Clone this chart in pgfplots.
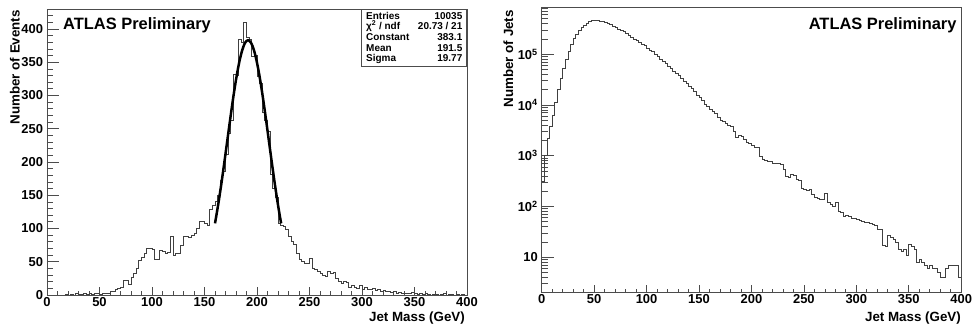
\documentclass[border=0pt]{standalone}
\usepackage{fontspec}
\setmainfont{Liberation Sans}
\usepackage{pgfplots}
\pgfplotsset{compat=1.18}
\definecolor{axgray}{gray}{0.3}
\definecolor{histgray}{gray}{0.25}
\pgfplotsset{
  rootstyle/.style={
    scale only axis,
    axis line style={axgray, line width=0.8bp},
    tick align=inside,
    tick pos=left,
    tick style={axgray, line width=0.7bp},
    xtick style={/pgfplots/major tick length=8bp, /pgfplots/minor tick length=4bp},
    ytick style={/pgfplots/major tick length=12bp, /pgfplots/minor tick length=6bp},
    /pgf/number format/assume math mode=true,
    ticklabel style={font=\fontsize{13}{13}\selectfont\bfseries},
    xticklabel style={inner sep=2bp},
    yticklabel style={inner sep=3.8bp},
    xmin=0, xmax=400,
    xtick={0,50,...,400},
    minor xtick={10,20,...,390},
  }
}
\begin{document}
\begin{tikzpicture}
\useasboundingbox (0,0) rectangle (972bp,324bp);
% ---------------- left panel ----------------
\begin{axis}[rootstyle,
  at={(47bp,29bp)}, anchor=south west,
  width=420bp, height=286bp,
  ymin=0, ymax=430,
  ytick={0,50,...,400},
  minor ytick={10,20,...,430},
]
\addplot[const plot, histgray, line width=0.8bp, no marks] coordinates {
(0,0) (2.5,0) (5,0) (7.5,0) (10,0) (12.5,0) (15,0) (17.5,1) (20,0) (22.5,1)
(25,0) (27.5,2) (30,1) (32.5,1) (35,2) (37.5,1) (40,2) (42.5,1) (45,3) (47.5,2)
(50,1) (52.5,3) (55,2) (57.5,3) (60,5) (62.5,6) (65,8) (67.5,10) (70,12) (72.5,22)
(75,22) (77.5,16) (80,26) (82.5,32) (85,40) (87.5,52) (90,57) (92.5,63) (95,70) (97.5,70)
(100,68) (102.5,53) (105,53) (107.5,67) (110,66) (112.5,63) (115,64) (117.5,88) (120,60) (122.5,62)
(125,62) (127.5,74) (130,88) (132.5,88) (135,87) (137.5,90) (140,93) (142.5,100) (145,110) (147.5,110)
(150,108) (152.5,105) (155,128) (157.5,135) (160,140) (162.5,150) (165,172) (167.5,186) (170,212) (172.5,243)
(175,262) (177.5,331) (180,330) (182.5,384) (185,380) (187.5,410) (190,387) (192.5,385) (195,359) (197.5,360)
(200,329) (202.5,318) (205,274) (207.5,262) (210,246) (212.5,181) (215,160) (217.5,146) (220,108) (222.5,105)
(225,103) (227.5,98) (230,88) (232.5,80) (235,76) (237.5,63) (240,54) (242.5,50) (245,48) (247.5,47)
(250,55) (252.5,40) (255,38) (257.5,35) (260,33) (262.5,30) (265,28) (267.5,36) (270,33) (272.5,34)
(275,25) (277.5,20) (280,17) (282.5,21) (285,19) (287.5,12) (290,15) (292.5,11) (295,10) (297.5,15)
(300,9) (302.5,12) (305,8) (307.5,9) (310,10) (312.5,7) (315,8) (317.5,6) (320,7) (322.5,5)
(325,6) (327.5,4) (330,5) (332.5,3) (335,4) (337.5,2) (340,3) (342.5,2) (345,3) (347.5,4)
(350,2) (352.5,1) (355,2) (357.5,1) (360,2) (362.5,1) (365,0) (367.5,1) (370,1) (372.5,0)
(375,1) (377.5,2) (380,0) (382.5,1) (385,1) (387.5,0) (390,1) (392.5,0) (395,1) (397.5,0) (400,0)
};
\addplot[black, line width=2.5bp, smooth, no marks] coordinates {
(160,107.7) (162,125.9) (164,145.6) (166,166.7) (168,189.0) (170,212.1) (172,235.5) (174,258.9)
(176,281.7) (178,303.5) (180,323.5) (182,341.3) (184,356.5) (186,368.5) (188,377.2) (190,382.0)
(191.5,383.1) (192,383.0) (194,380.0) (196,373.3) (198,363.0) (200,349.3) (202,332.7) (204,313.7)
(206,292.7) (208,270.4) (210,247.3) (212,223.8) (214,200.5) (216,177.8) (218,156.0) (220,135.5)
(222,116.6) (223,107.7)
};
\end{axis}
% ---------------- right panel ----------------
\begin{axis}[rootstyle,
  at={(541.7bp,31.3bp)}, anchor=south west,
  width=419.5bp, height=285.7bp,
  ymode=log, ymin=2, ymax=8.5e5,
  ytick={10,100,1000,10000,100000},
  yticklabels={10,10\textsuperscript{2},10\textsuperscript{3},10\textsuperscript{4},10\textsuperscript{5}},
  minor ytick={2,3,4,5,6,7,8,9,20,30,40,50,60,70,80,90,200,300,400,500,600,700,800,900,2000,3000,4000,5000,6000,7000,8000,9000,20000,30000,40000,50000,60000,70000,80000,90000,200000,300000,400000,500000,600000,700000,800000},
]
\addplot[const plot, histgray, line width=0.8bp, no marks] coordinates {
(0,309) (2.5,1000) (5,2239) (7.5,3715) (10,6310) (12.5,11220) (15,19953) (17.5,33113) (20,52481) (22.5,79433)
(25,114815) (27.5,158489) (30,204174) (32.5,245471) (35,288403) (37.5,331131) (40,371535) (42.5,407380) (45,436516) (47.5,457088)
(50,462381) (52.5,457088) (55,451856) (57.5,441570) (60,421697) (62.5,398107) (65,377572) (67.5,354813) (70,334965) (72.5,309030)
(75,291743) (77.5,275423) (80,251189) (82.5,234423) (85,215774) (87.5,199526) (90,188365) (92.5,171791) (95,158489) (97.5,146218)
(100,131826) (102.5,120226) (105,112202) (107.5,100000) (110,91201) (112.5,77625) (115,70795) (117.5,64565) (120,57544) (122.5,51286)
(125,46774) (127.5,41687) (130,38019) (132.5,33884) (135,29512) (137.5,26915) (140,22909) (142.5,20893) (145,18621) (147.5,15488)
(150,14125) (152.5,12023) (155,10471) (157.5,9333) (160,8318) (162.5,7413) (165,6761) (167.5,5754) (170,5012) (172.5,4677)
(175,4365) (177.5,3981) (180,3715) (182.5,3020) (185,2291) (187.5,2512) (190,2399) (192.5,2138) (195,1820) (197.5,1778)
(200,1622) (202.5,1479) (205,1479) (207.5,955) (210,850) (212.5,815) (215,776) (217.5,759) (220,708) (222.5,720)
(225,695) (227.5,661) (230,537) (232.5,395) (235,380) (237.5,425) (240,410) (242.5,340) (245,322) (247.5,229)
(250,220) (252.5,208) (255,216) (257.5,170) (260,151) (262.5,141) (265,136) (267.5,139) (270,182) (272.5,120)
(275,110) (277.5,102) (280,120) (282.5,81) (285,77) (287.5,63) (290,66) (292.5,63) (295,59) (297.5,58)
(300,55) (302.5,53) (305,51) (307.5,49) (310,48) (312.5,46) (315,44) (317.5,43) (320,36) (322.5,35)
(325,17) (327.5,16) (330,27) (332.5,25) (335,22) (337.5,20) (340,14) (342.5,13) (345,14) (347.5,11)
(350,18) (352.5,16) (355,14) (357.5,8) (360,9) (362.5,8) (365,7) (367.5,6) (370,7) (372.5,6)
(375,6) (377.5,5) (380,4) (382.5,4) (385,6) (387.5,7) (390,7) (392.5,7) (395,7) (397.5,4) (400,4)
};
\end{axis}
% ---------------- labels ----------------
\begin{scope}[every node/.style={inner sep=0pt}]
\node[anchor=base west, font=\fontsize{16.5}{16.5}\selectfont\bfseries] at (63bp,294.7bp) {ATLAS Preliminary};
\node[anchor=base east, font=\fontsize{16.5}{16.5}\selectfont\bfseries] at (956.7bp,294.7bp) {ATLAS Preliminary};
\node[anchor=base east, font=\fontsize{13.4}{13.4}\selectfont\bfseries] at (465bp,3bp) {Jet Mass (GeV)};
\node[anchor=base east, font=\fontsize{13.4}{13.4}\selectfont\bfseries] at (961bp,3bp) {Jet Mass (GeV)};
\node[anchor=base east, rotate=90, font=\fontsize{13.4}{13.4}\selectfont\bfseries] at (19.5bp,314bp) {Number of Events};
\node[anchor=base east, rotate=90, font=\fontsize{13.4}{13.4}\selectfont\bfseries] at (513bp,314bp) {Number of Jets};
% stats box
\draw[axgray, fill=white, line width=0.8bp] (361.7bp,258bp) rectangle (466.7bp,315bp);
\begin{scope}[every node/.style={inner sep=0pt, font=\fontsize{10}{10}\selectfont\bfseries}]
\node[anchor=base west] at (366bp,304.5bp) {Entries};
\node[anchor=base east] at (462.5bp,304.5bp) {10035};
\node[anchor=base west] at (366bp,294.5bp) {χ\textsuperscript{2} / ndf};
\node[anchor=base east] at (462.5bp,294.5bp) {20.73 / 21};
\node[anchor=base west] at (366bp,283.5bp) {Constant};
\node[anchor=base east] at (462.5bp,283.5bp) {383.1};
\node[anchor=base west] at (366bp,272.5bp) {Mean};
\node[anchor=base east] at (462.5bp,272.5bp) {191.5};
\node[anchor=base west] at (366bp,262bp) {Sigma};
\node[anchor=base east] at (462.5bp,262bp) {19.77};
\end{scope}
\end{scope}
\end{tikzpicture}
\end{document}
